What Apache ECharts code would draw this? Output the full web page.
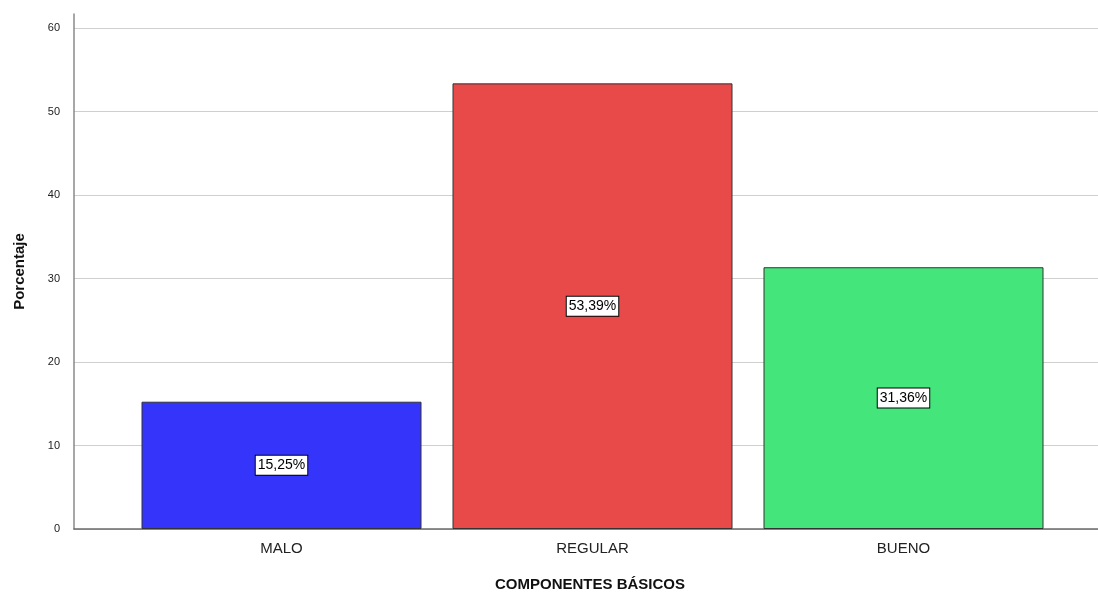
<!DOCTYPE html>
<html><head><meta charset="utf-8">
<script src="https://cdn.jsdelivr.net/npm/echarts@6/dist/echarts.min.js"></script>
<style>html,body{margin:0;padding:0;background:#fff}#c{width:1098px;height:602px}</style>
</head><body><div id="c"></div>
<script>
const categories = ['MALO', 'REGULAR', 'BUENO'];
const values = [15.25, 53.39, 31.36];
const labels = ['15,25%', '53,39%', '31,36%'];
const colors = ['#3434fb', '#e84a4a', '#44e67c'];
const yTicks = [0, 10, 20, 30, 40, 50, 60];

const chart = echarts.init(document.getElementById('c'));
const yMax = 61.7;
chart.setOption({
  animation: false,
  grid: [
    {left: 74, right: 0, top: 14, bottom: 73},
    {left: 126, width: 933, top: 14, bottom: 73}
  ],
  xAxis: [
    {gridIndex: 0, type: 'category', data: categories, show: true,
     axisLine: {lineStyle: {color: '#6b6b6b', width: 1.5}}, axisTick: {show: false}, axisLabel: {show: false},
     name: 'COMPONENTES BÁSICOS', nameLocation: 'middle', nameGap: 48,
     nameTextStyle: {fontFamily: 'Liberation Sans', fontWeight: 'bold', fontSize: 15, color: '#111', padding: [0, 0, 0, 8]}},
    {gridIndex: 1, type: 'category', data: categories,
     axisLine: {show: false}, axisTick: {show: false},
     axisLabel: {fontFamily: 'Liberation Sans', fontSize: 15, color: '#222', margin: 12}}
  ],
  yAxis: [
    {gridIndex: 0, type: 'value', min: 0, max: yMax, interval: 10,
     axisLine: {show: true, lineStyle: {color: '#8a8a8a', width: 1.5}}, axisTick: {show: false},
     axisLabel: {showMaxLabel: false, fontFamily: 'Liberation Sans', fontSize: 11, color: '#222', margin: 14,
       formatter: v => yTicks.includes(v) ? String(v) : ''},
     splitLine: {show: true, showMaxLine: false, lineStyle: {color: '#cfcfcf', width: 1}},
     name: 'Porcentaje', nameLocation: 'middle', nameGap: 47, nameRotate: 90,
     nameTextStyle: {fontFamily: 'Liberation Sans', fontWeight: 'bold', fontSize: 15, color: '#111'}},
    {gridIndex: 1, type: 'value', min: 0, max: yMax, show: false}
  ],
  series: [{
    type: 'bar', xAxisIndex: 1, yAxisIndex: 1, barWidth: 280,
    data: values.map((v, i) => ({value: v, itemStyle: {color: colors[i]}})),
    itemStyle: {borderColor: '#333', borderWidth: 1},
    label: {show: true, position: 'inside', formatter: p => labels[p.dataIndex],
      fontFamily: 'Liberation Sans', fontSize: 14, color: '#000',
      backgroundColor: '#fff', borderColor: '#000', borderWidth: 1, padding: [3, 2, 2, 2]}
  }]
});
</script></body></html>
